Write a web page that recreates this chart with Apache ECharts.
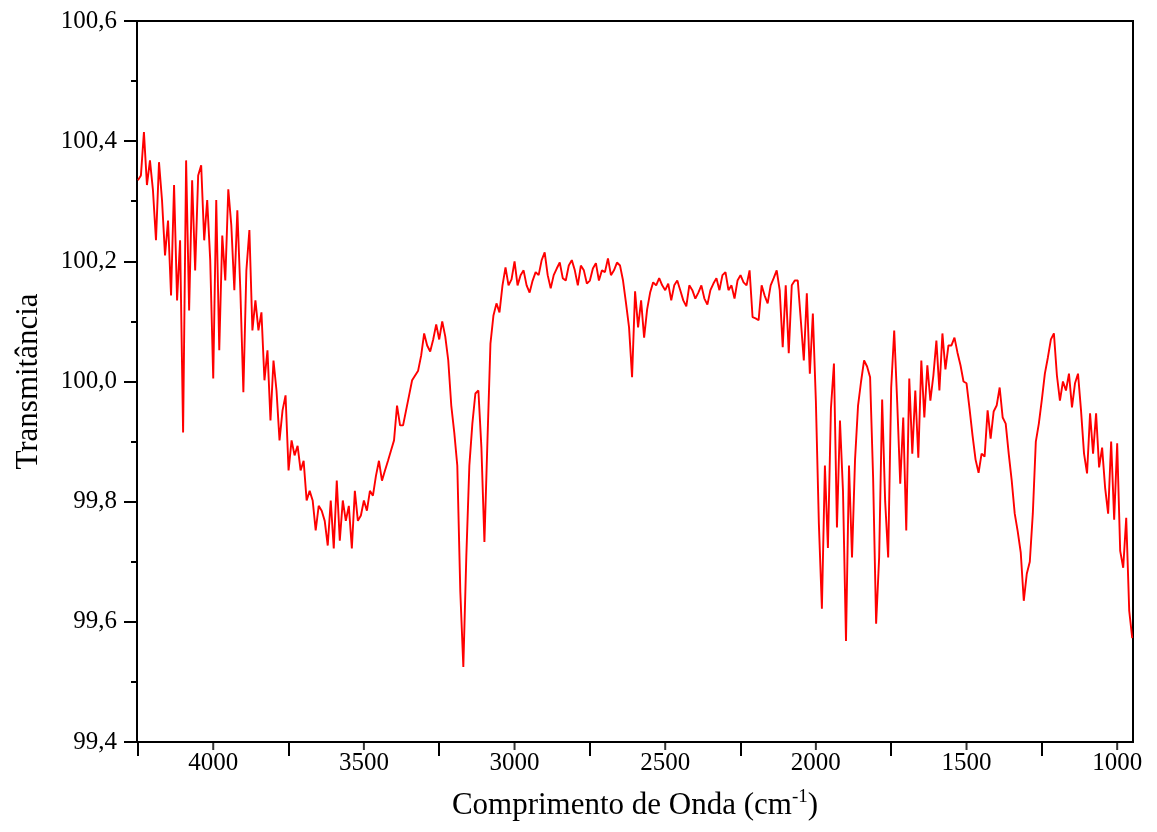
<!DOCTYPE html>
<html>
<head>
<meta charset="utf-8">
<script src="https://cdn.jsdelivr.net/npm/echarts@6/dist/echarts.min.js"></script>
<style>html,body{margin:0;padding:0;background:#fff}#c{width:1157px;height:832px}</style>
</head>
<body>
<div id="c"></div>
<script>
// Transmittance values, one every 10 cm-1, segment by segment.
const wnStep = 10;
const segStarts = [4250, 3790, 3290, 2790, 2290, 1790, 1290];
const seg4250 = [100.335,100.343,100.415,100.327,100.368,100.318,100.235,100.365,100.302,100.21,
  100.268,100.143,100.327,100.135,100.235,99.915,100.368,100.118,100.335,100.185,
  100.343,100.36,100.235,100.302,100.202,100.005,100.302,100.052,100.243,100.168,
  100.32,100.26,100.152,100.285,100.152,99.982,100.185,100.252,100.085,100.135,
  100.085,100.115,100.002,100.052,99.935,100.035];
const seg3790 = [99.985,99.902,99.952,99.977,99.852,99.902,99.877,99.893,99.852,99.868,
  99.802,99.818,99.802,99.752,99.793,99.785,99.768,99.727,99.802,99.722,
  99.835,99.735,99.802,99.768,99.793,99.722,99.818,99.768,99.777,99.802,
  99.785,99.818,99.81,99.843,99.868,99.835,99.852,99.868,99.885,99.902,
  99.96,99.927,99.927,99.952,99.977,100.002,100.01,100.018,100.043,100.08];
const seg3290 = [100.06,100.05,100.07,100.095,100.07,100.1,100.075,100.035,99.96,99.915,
  99.86,99.65,99.525,99.71,99.86,99.93,99.98,99.985,99.89,99.733,
  99.9,100.063,100.11,100.13,100.115,100.16,100.19,100.16,100.17,100.2,
  100.16,100.177,100.185,100.16,100.148,100.168,100.182,100.177,100.202,100.215,
  100.177,100.155,100.177,100.188,100.198,100.172,100.168,100.193,100.202,100.185];
const seg2790 = [100.16,100.193,100.185,100.163,100.168,100.188,100.197,100.168,100.185,100.182,
  100.205,100.177,100.185,100.198,100.193,100.168,100.13,100.09,100.007,100.15,
  100.09,100.135,100.073,100.12,100.148,100.165,100.16,100.172,100.16,100.152,
  100.163,100.135,100.16,100.168,100.152,100.135,100.125,100.16,100.152,100.138,
  100.148,100.16,100.138,100.128,100.152,100.163,100.172,100.152,100.177,100.182];
const seg2290 = [100.152,100.16,100.138,100.168,100.177,100.165,100.16,100.185,100.107,100.105,
  100.102,100.16,100.143,100.13,100.16,100.172,100.185,100.152,100.057,100.16,
  100.047,100.16,100.168,100.168,100.102,100.035,100.147,100.013,100.113,99.968,
  99.763,99.622,99.86,99.723,99.955,100.03,99.757,99.935,99.818,99.568,
  99.86,99.707,99.87,99.96,100.0,100.035,100.025,100.007,99.84,99.597];
const seg1790 = [99.707,99.97,99.80,99.707,99.99,100.085,99.965,99.83,99.94,99.752,
  100.005,99.88,99.985,99.873,100.035,99.94,100.027,99.968,100.01,100.068,
  99.985,100.08,100.02,100.06,100.06,100.073,100.048,100.027,100.0,99.997,
  99.955,99.91,99.87,99.848,99.88,99.875,99.952,99.905,99.95,99.96,
  99.99,99.94,99.93,99.88,99.835,99.78,99.75,99.715,99.635,99.68];
const seg1290 = [99.70,99.78,99.90,99.93,99.97,100.013,100.04,100.07,100.08,100.01,
  99.968,100.0,99.985,100.013,99.957,99.997,100.013,99.952,99.88,99.847,
  99.947,99.88,99.947,99.857,99.89,99.823,99.78,99.9,99.77,99.897,
  99.718,99.69,99.773,99.618,99.573];
const segments = [seg4250, seg3790, seg3290, seg2790, seg2290, seg1790, seg1290];

const xLabelValues = [4000, 3500, 3000, 2500, 2000, 1500, 1000];
const xMidTickValues = [4250, 3750, 3250, 2750, 2250, 1750, 1250];
const yMin = 99.4, yMax = 100.6, yInterval = 0.2;
const xMin = 947.5, xMax = 4253;

const data = [];
segments.forEach((seg, s) => {
  seg.forEach((v, i) => data.push([segStarts[s] - i * wnStep, v]));
});
// short tick marks under each labelled wavenumber, placed on the bottom edge via the axis scales
const labelTickData = xLabelValues.map(w => [w, yMin]);

const FONT = 'Liberation Serif';

const chart = echarts.init(document.getElementById('c'), null, {renderer: 'canvas'});
chart.setOption({
  animation: false,
  backgroundColor: '#fff',
  grid: {left: 137, right: 24, top: 21, bottom: 90, show: true, borderColor: '#000', borderWidth: 2, containLabel: false, outerBoundsMode: 'none'},
  xAxis: [
    {
      type: 'value', inverse: true, min: xMin, max: xMax, position: 'bottom',
      name: '{t|Comprimento de Onda (cm}{s|-1}{t|)}',
      nameLocation: 'middle', nameGap: 46,
      nameTextStyle: {rich: {
        t: {fontFamily: FONT, fontSize: 31, color: '#000', lineHeight: 36},
        s: {fontFamily: FONT, fontSize: 19, color: '#000', lineHeight: 20, verticalAlign: 'top'}
      }},
      axisLine: {show: true, onZero: false, lineStyle: {color: '#000', width: 2}},
      axisTick: {show: true, inside: false, length: 14, lineStyle: {color: '#000', width: 2}, customValues: xMidTickValues},
      axisLabel: {show: true, margin: 9, fontFamily: FONT, fontSize: 25, color: '#000',
        customValues: xLabelValues, formatter: v => String(v)},
      splitLine: {show: false}
    }
  ],
  yAxis: {
    type: 'value', min: yMin, max: yMax, interval: yInterval,
    name: 'Transmitância', nameLocation: 'middle', nameGap: 93,
    nameTextStyle: {fontFamily: FONT, fontSize: 31, color: '#000'},
    axisLine: {show: true, onZero: false, lineStyle: {color: '#000', width: 2}},
    axisTick: {show: true, inside: false, length: 13, lineStyle: {color: '#000', width: 2}},
    minorTick: {show: true, splitNumber: 2, length: 6, lineStyle: {color: '#000', width: 2}},
    axisLabel: {margin: 20, fontFamily: FONT, fontSize: 25, color: '#000',
      formatter: v => v.toFixed(1).replace('.', ',')},
    splitLine: {show: false}
  },
  series: [{
    type: 'line', data: data, showSymbol: false, symbol: 'none',
    sampling: null, lineStyle: {color: '#ff0000', width: 1.9}, itemStyle: {color: '#ff0000'}
  }, {
    type: 'scatter', data: labelTickData, symbol: 'rect', symbolSize: [2, 8], symbolOffset: [0, 4],
    itemStyle: {color: '#000'}, clip: false, silent: true, z: 5,
    emphasis: {disabled: true}, tooltip: {show: false}
  }]
});
</script>
</body>
</html>
